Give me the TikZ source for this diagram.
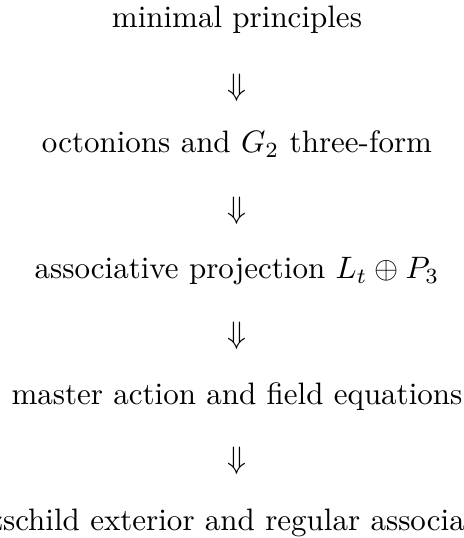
\documentclass[tikz,border=0pt]{standalone}
\begin{document}
\begin{tikzpicture}[txt/.style = {anchor = base}, imp/.style = {inner sep = 0pt}]
	\useasboundingbox (-2.686,0) rectangle (2.573,-6.098);
	\node [txt] (prin) at (0,-0.306) {minimal principles};
	\node [imp] (imp1) at (0,-0.992) {$\Downarrow$};
	\node [txt] (octo) at (0,-1.734) {octonions and $G_2$ three-form};
	\node [imp] (imp2) at (0,-2.391) {$\Downarrow$};
	\node [txt] (proj) at (0,-3.162) {associative projection $L_t \oplus P_3$};
	\node [imp] (imp3) at (0,-3.803) {$\Downarrow$};
	\node [txt] (act) at (0,-4.590) {master action and field equations};
	\node [imp] (imp4) at (0,-5.219) {$\Downarrow$};
	%\node [txt] (schw) at (0,-6.018) {exterior and regular};
	\node [txt] (schw) at (0,-6.018) {Schwarzschild exterior and regular associative core};
\end{tikzpicture}
\end{document}
